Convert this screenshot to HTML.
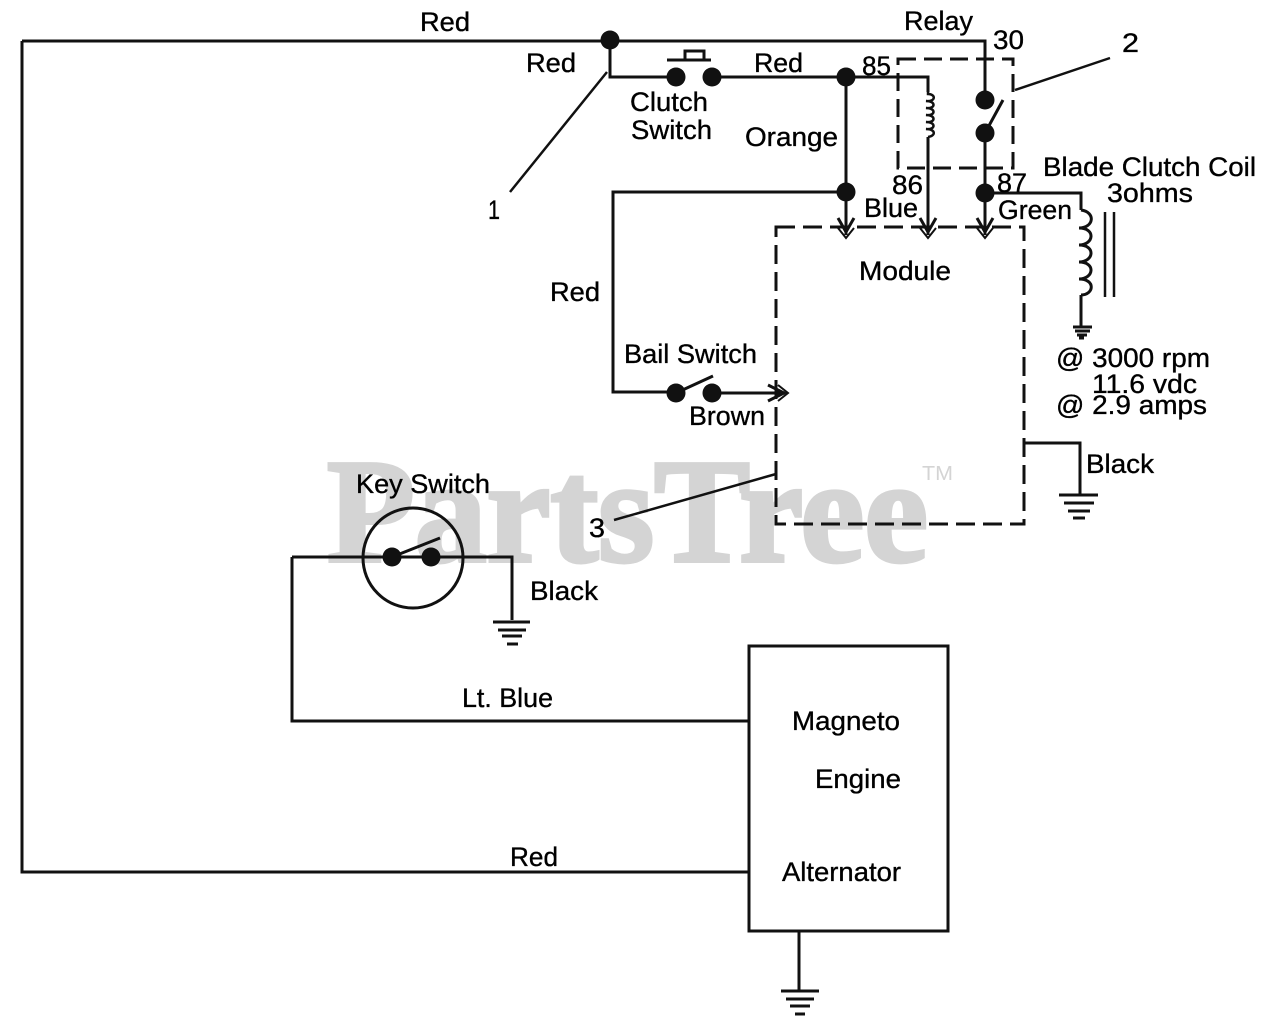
<!DOCTYPE html>
<html><head><meta charset="utf-8"><style>
html,body{margin:0;padding:0;background:#fff}
svg{display:block}
text{font-family:"Liberation Sans",sans-serif;font-size:26.5px;fill:#000;stroke:#000;stroke-width:.35px}
</style></head><body>
<svg width="1280" height="1028" viewBox="0 0 1280 1028" xmlns="http://www.w3.org/2000/svg">
<text x="327" y="561" textLength="601" lengthAdjust="spacingAndGlyphs" style="font-family:'Liberation Serif',serif;font-weight:bold;font-size:148px;fill:#d4d4d4;stroke:#d4d4d4;stroke-width:4px">PartsTree</text>
<text x="922" y="480" textLength="31" lengthAdjust="spacingAndGlyphs" style="font-size:20px;fill:#d4d4d4;stroke:none">TM</text>

<g fill="none" stroke="#111" stroke-width="3">
<path d="M22 41H985V100M610 40V77H677M712 77H846H928V92"/>
<path d="M22 41V872H749"/>
<path d="M846 77V235M846 192H613V392H676M712 393H785"/>
<path d="M928 137V235"/>
<path d="M985 133V235M985 193H1081V210"/>
<path d="M1081 295V327"/>
<path d="M1105 212V297M1114 212V297" stroke-width="2.5"/>
<path d="M292 557V721H749M292 557H512V620"/>
<circle cx="413" cy="558" r="50"/>
<path d="M392 557L440 538M676 393L713 376M985 133L1003 100M667 60H711M685 59V51H704V59"/>
<rect x="749" y="646" width="199" height="285"/>
<path d="M799 931V990M1024 443H1080V494"/>
<path d="M510 192L607 72M1110 58L1015 90M614 520L776 474" stroke-width="2.5"/>
<!-- arrowheads: open V with small hollow triangle tip -->
<path d="M838 218L846 232L854 218M920 218L928 232L936 218M977 218L985 232L993 218" stroke-width="3"/>
<path d="M838 228L846 238L854 228M920 228L928 238L936 228M977 228L985 238L993 228" stroke-width="2"/>
<path d="M768 385L784 393L768 401" stroke-width="3"/>
<path d="M778 385L788 393L778 401" stroke-width="2"/>
<!-- coils -->
<path d="M928 92V94C936 94 936 102 926 101C936 101 936 109 926 108C936 108 936 116 926 115C936 115 936 123 926 122C936 122 936 130 926 129C936 129 936 136 928 137" stroke-width="2.5"/>
<path d="M1081 210C1096 212 1094 228 1079 228C1096 228 1094 245 1079 245C1096 245 1094 262 1079 262C1096 262 1094 279 1079 279C1096 279 1094 295 1081 295" stroke-width="3"/>
<!-- dashed boxes -->
<rect x="898" y="59" width="115" height="109" stroke-dasharray="18 8"/>
<rect x="776" y="227" width="248" height="297" stroke-dasharray="19 8"/>
<!-- grounds -->
<path d="M1073 327H1092M1075 331H1090M1077 335H1087M1079 338H1084"/>
<path d="M1059 495H1098M1064 503H1094M1068 511H1090M1073 518H1085"/>
<path d="M493 622H530M498 630H526M502 636H522M507 644H518"/>
<path d="M781 991H819M786 999H814M790 1006H810M795 1014H805"/>
</g>
<g fill="#111">
<circle cx="610" cy="40" r="9.5"/>
<circle cx="676" cy="77" r="9.5"/><circle cx="712" cy="77" r="9.5"/>
<circle cx="846" cy="77" r="9.5"/><circle cx="846" cy="192" r="9.5"/>
<circle cx="985" cy="100" r="9.5"/><circle cx="985" cy="133" r="9.5"/><circle cx="985" cy="193" r="9.5"/>
<circle cx="676" cy="393" r="9.5"/><circle cx="712" cy="393" r="9.5"/>
<circle cx="392" cy="557" r="9.5"/><circle cx="431" cy="557" r="9.5"/>
</g>
<text x="420" y="31" textLength="50" lengthAdjust="spacingAndGlyphs">Red</text>
<text x="904" y="30" textLength="69" lengthAdjust="spacingAndGlyphs">Relay</text>
<text x="993" y="49" textLength="31" lengthAdjust="spacingAndGlyphs">30</text>
<text x="1122" y="52" textLength="17" lengthAdjust="spacingAndGlyphs">2</text>
<text x="526" y="72" textLength="50" lengthAdjust="spacingAndGlyphs">Red</text>
<text x="754" y="72" textLength="49" lengthAdjust="spacingAndGlyphs">Red</text>
<text x="862" y="75" textLength="29" lengthAdjust="spacingAndGlyphs">85</text>
<text x="630" y="111" textLength="78" lengthAdjust="spacingAndGlyphs">Clutch</text>
<text x="631" y="139" textLength="81" lengthAdjust="spacingAndGlyphs">Switch</text>
<text x="745" y="146" textLength="93" lengthAdjust="spacingAndGlyphs">Orange</text>
<text x="1043" y="176" textLength="213" lengthAdjust="spacingAndGlyphs">Blade Clutch Coil</text>
<text x="1107" y="202" textLength="86" lengthAdjust="spacingAndGlyphs">3ohms</text>
<text x="892" y="194" textLength="31" lengthAdjust="spacingAndGlyphs">86</text>
<text x="997" y="192" textLength="30" lengthAdjust="spacingAndGlyphs">87</text>
<text x="864" y="217" textLength="54" lengthAdjust="spacingAndGlyphs">Blue</text>
<text x="998" y="219" textLength="74" lengthAdjust="spacingAndGlyphs">Green</text>
<text x="859" y="280" textLength="92" lengthAdjust="spacingAndGlyphs">Module</text>
<text x="488" y="219" textLength="12" lengthAdjust="spacingAndGlyphs">1</text>
<text x="550" y="301" textLength="50" lengthAdjust="spacingAndGlyphs">Red</text>
<text x="624" y="363" textLength="133" lengthAdjust="spacingAndGlyphs">Bail Switch</text>
<text x="689" y="425" textLength="76" lengthAdjust="spacingAndGlyphs">Brown</text>
<text x="1056" y="367" textLength="154" lengthAdjust="spacingAndGlyphs">@ 3000 rpm</text>
<text x="1092" y="393" textLength="105" lengthAdjust="spacingAndGlyphs">11.6 vdc</text>
<text x="1056" y="414" textLength="151" lengthAdjust="spacingAndGlyphs">@ 2.9 amps</text>
<text x="1086" y="473" textLength="68" lengthAdjust="spacingAndGlyphs">Black</text>
<text x="356" y="493" textLength="134" lengthAdjust="spacingAndGlyphs">Key Switch</text>
<text x="589" y="537" textLength="16" lengthAdjust="spacingAndGlyphs">3</text>
<text x="530" y="600" textLength="68" lengthAdjust="spacingAndGlyphs">Black</text>
<text x="462" y="707" textLength="91" lengthAdjust="spacingAndGlyphs">Lt. Blue</text>
<text x="792" y="730" textLength="108" lengthAdjust="spacingAndGlyphs">Magneto</text>
<text x="815" y="788" textLength="86" lengthAdjust="spacingAndGlyphs">Engine</text>
<text x="510" y="866" textLength="48" lengthAdjust="spacingAndGlyphs">Red</text>
<text x="782" y="881" textLength="119" lengthAdjust="spacingAndGlyphs">Alternator</text>
</svg>
</body></html>
